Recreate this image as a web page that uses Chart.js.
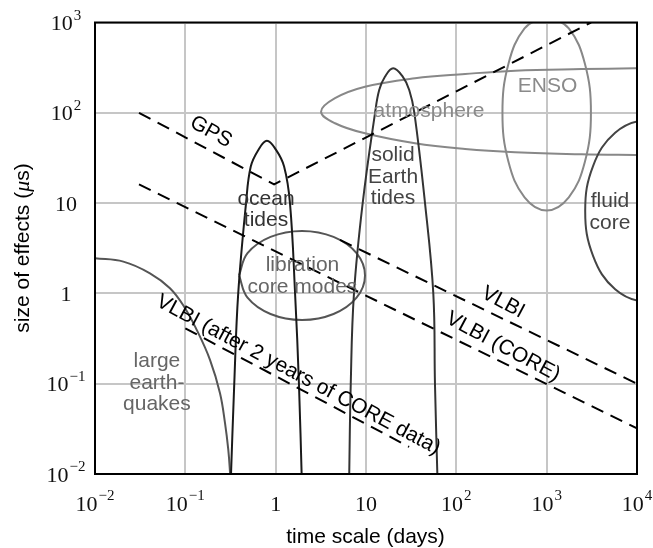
<!DOCTYPE html>
<html>
<head>
<meta charset="utf-8">
<script src="https://cdn.jsdelivr.net/npm/chart.js@4.4.0/dist/chart.umd.min.js"></script>
<style>
  html, body { margin: 0; padding: 0; background: #fff; }
</style>
</head>
<body>
<canvas id="effectsChart" width="653" height="548"></canvas>
<script>
// axis ticks (decades)
const xTicks = [0.01, 0.1, 1, 10, 100, 1000, 10000];
const xTickLabels = [['10', '−2'], ['10', '−1'], ['1', ''], ['10', ''], ['10', '2'], ['10', '3'], ['10', '4']];
const yTicks = [0.01, 0.1, 1, 10, 100, 1000];
const yTickLabels = [['10', '−2'], ['10', '−1'], ['1', ''], ['10', ''], ['10', '2'], ['10', '3']];

// accuracy lines [days, microseconds]
const gpsLine = [[0.0307, 100], [0.96, 16.1], [3100, 1000]];
const vlbiLine = [[5.15, 3.91], [10000, 0.1]];
const vlbiCoreLine = [[0.0307, 16.1], [10000, 0.032]];
const vlbiAfterCoreLine = [[0.1, 0.41], [30, 0.02]];

// geophysical effects [days, microseconds]
const earthquakes = [[0.01, 2.45], [0.0206, 2.25], [0.0406, 1.67], [0.0676, 1.14], [0.0974, 0.708], [0.1337, 0.394],
  [0.1875, 0.184], [0.242, 0.0785], [0.275, 0.0366], [0.299, 0.0185], [0.312, 0.0106], [0.316, 0.008]];
const oceanTides = [[0.318, 0.008], [0.348, 0.1], [0.385, 1], [0.47, 10], [0.53, 25.4], [0.643, 38.8], [0.8, 49],
  [1.01, 38.8], [1.24, 25.4], [1.44, 10], [1.64, 1], [1.81, 0.1], [1.95, 0.008]];
const solidEarthTides = [[6.5, 0.008], [6.78, 0.1], [7.36, 1], [9.19, 10], [12.6, 100], [14, 179], [16.2, 251], [20, 311],
  [25.5, 251], [30.1, 179], [34.3, 100], [45, 10], [55.6, 1], [58, 0.1], [62, 0.008]];
const libration = [[0.393, 1.58], [0.488, 0.896], [0.877, 0.591], [1.96, 0.508], [4.37, 0.591], [7.86, 0.896], [9.75, 1.58],
  [7.86, 2.79], [4.37, 4.23], [1.96, 4.92], [0.877, 4.23], [0.488, 2.79], [0.393, 1.58]];
const enso = [[1000, 1202], [569, 861], [377, 347], [324, 100], [377, 28.8], [569, 11.6], [1000, 8.3], [1758, 11.6],
  [2655, 28.8], [3090, 100], [2655, 347], [1758, 861], [1000, 1202]];
const atmosphere = [[20000, 313], [9506, 311], [2443, 305], [447, 293], [125, 269], [34.9, 241], [9.75, 194], [4.54, 145],
  [3.18, 103], [4.54, 76.6], [9.75, 59.3], [34.9, 46], [125, 39.8], [447, 36.6], [2443, 34.7], [9506, 34.1], [20000, 33.9]];
const fluidCore = [[26400, 60.1], [12300, 81.8], [5730, 60.1], [3270, 25.9], [2670, 8.18], [3270, 2.59], [5730, 1.11],
  [12300, 0.818], [26400, 1.11]];

const SANS = '"Liberation Sans", Arial, sans-serif';
const SERIF = '"Liberation Serif", "Times New Roman", serif';

// text placed in data coordinates
const notes = [
  { lines: ['GPS'], x: 0.192, y: 61.4, angle: 29, color: '#000' },
  { lines: ['VLBI'], x: 329, y: 0.794, angle: 28, color: '#000' },
  { lines: ['VLBI (CORE)'], x: 329, y: 0.256, angle: 28, color: '#000' },
  { lines: ['VLBI (after 2 years of CORE data)'], x: 1.78, y: 0.125, angle: 28, color: '#000' },
  { lines: ['ENSO'], x: 1021, y: 199, angle: 0, color: '#8a8a8a' },
  { lines: ['atmosphere'], x: 49.9, y: 103, angle: 0, color: '#8a8a8a' },
  { lines: ['solid', 'Earth', 'tides'], x: 19.9, y: 19.6, angle: 0, color: '#444' },
  { lines: ['fluid', 'core'], x: 5026, y: 7.88, angle: 0, color: '#444' },
  { lines: ['ocean', 'tides'], x: 0.782, y: 8.4, angle: 0, color: '#333' },
  { lines: ['libration', 'core modes'], x: 1.98, y: 1.56, angle: 0, color: '#666' },
  { lines: ['large', 'earth-', 'quakes'], x: 0.0485, y: 0.102, angle: 0, color: '#666' }
];

function drawPower(ctx, base, exp, cx, cy) {
  ctx.font = '22px ' + SERIF;
  const wb = ctx.measureText(base).width;
  ctx.font = '15px ' + SERIF;
  const we = exp ? ctx.measureText(exp).width + 1 : 0;
  const x0 = cx - (wb + we) / 2;
  ctx.textAlign = 'left';
  ctx.textBaseline = 'alphabetic';
  ctx.font = '22px ' + SERIF;
  ctx.fillText(base, x0, cy + 7.5);
  if (exp) {
    ctx.font = '15px ' + SERIF;
    ctx.fillText(exp, x0 + wb + 1, cy - 3);
  }
}

// y title with an italic mu
function drawYTitle(ctx, cx, cy) {
  const parts = [['size of effects (', '21px ' + SANS], ['μ', 'italic 22px ' + SERIF], ['s)', '21px ' + SANS]];
  let total = 0;
  parts.forEach(p => { ctx.font = p[1]; total += ctx.measureText(p[0]).width; });
  ctx.save();
  ctx.translate(cx, cy);
  ctx.rotate(-Math.PI / 2);
  ctx.textAlign = 'left';
  ctx.textBaseline = 'middle';
  let x = -total / 2;
  parts.forEach(p => {
    ctx.font = p[1];
    ctx.fillText(p[0], x, 0);
    x += ctx.measureText(p[0]).width;
  });
  ctx.restore();
}

const annotate = {
  id: 'annotate',
  afterDatasetsDraw(chart) {
    const { ctx, chartArea: a, scales } = chart;
    const xs = scales.x, ys = scales.y;
    ctx.save();
    ctx.strokeStyle = '#000';
    ctx.lineWidth = 2;
    ctx.strokeRect(a.left, a.top, a.right - a.left, a.bottom - a.top);

    ctx.fillStyle = '#111';
    xTicks.forEach((v, i) => drawPower(ctx, xTickLabels[i][0], xTickLabels[i][1], xs.getPixelForValue(v), a.bottom + 29));
    yTicks.forEach((v, i) => drawPower(ctx, yTickLabels[i][0], yTickLabels[i][1], a.left - 29, ys.getPixelForValue(v)));

    ctx.fillStyle = '#000';
    ctx.font = '21px ' + SANS;
    ctx.textAlign = 'center';
    ctx.textBaseline = 'middle';
    ctx.fillText('time scale (days)', (a.left + a.right) / 2 - 0.5, a.bottom + 63);
    drawYTitle(ctx, 23, 248);

    ctx.font = '21px ' + SANS;
    ctx.textAlign = 'center';
    ctx.textBaseline = 'middle';
    notes.forEach(n => {
      ctx.save();
      ctx.translate(xs.getPixelForValue(n.x), ys.getPixelForValue(n.y));
      ctx.rotate(n.angle * Math.PI / 180);
      ctx.fillStyle = n.color;
      const lh = 21.5;
      n.lines.forEach((t, k) => ctx.fillText(t, 0, (k - (n.lines.length - 1) / 2) * lh));
      ctx.restore();
    });
    ctx.restore();
  }
};

function curve(data, color, dashed) {
  return {
    data: data,
    borderColor: color,
    borderWidth: 2,
    borderDash: dashed ? [13, 8] : [],
    tension: dashed ? 0 : 0.4,
    pointRadius: 0,
    fill: false
  };
}

const gridStyle = { color: '#c6c6c6', lineWidth: 2, drawTicks: false };

const ctx = document.getElementById('effectsChart').getContext('2d');
const effectsChart = new Chart(ctx, {
  type: 'line',
  data: {
    datasets: [
      curve(gpsLine, '#000', true),
      curve(vlbiLine, '#000', true),
      curve(vlbiCoreLine, '#000', true),
      curve(vlbiAfterCoreLine, '#000', true),
      curve(oceanTides, '#1a1a1a'),
      curve(solidEarthTides, '#333'),
      curve(earthquakes, '#555'),
      curve(libration, '#555'),
      curve(fluidCore, '#444'),
      curve(enso, '#888'),
      curve(atmosphere, '#888')
    ]
  },
  options: {
    responsive: false,
    animation: false,
    layout: { padding: { left: 95, top: 22.5, right: 16, bottom: 74 } },
    elements: { line: { capBezierPoints: false } },
    plugins: { legend: { display: false }, tooltip: { enabled: false } },
    scales: {
      x: {
        type: 'logarithmic', min: 0.01, max: 10000,
        afterBuildTicks: s => { s.ticks = xTicks.map(v => ({ value: v })); },
        ticks: { display: false },
        grid: gridStyle,
        border: { display: false }
      },
      y: {
        type: 'logarithmic', min: 0.01, max: 1000,
        afterBuildTicks: s => { s.ticks = yTicks.map(v => ({ value: v })); },
        ticks: { display: false },
        grid: gridStyle,
        border: { display: false }
      }
    }
  },
  plugins: [annotate]
});
</script>
</body>
</html>
